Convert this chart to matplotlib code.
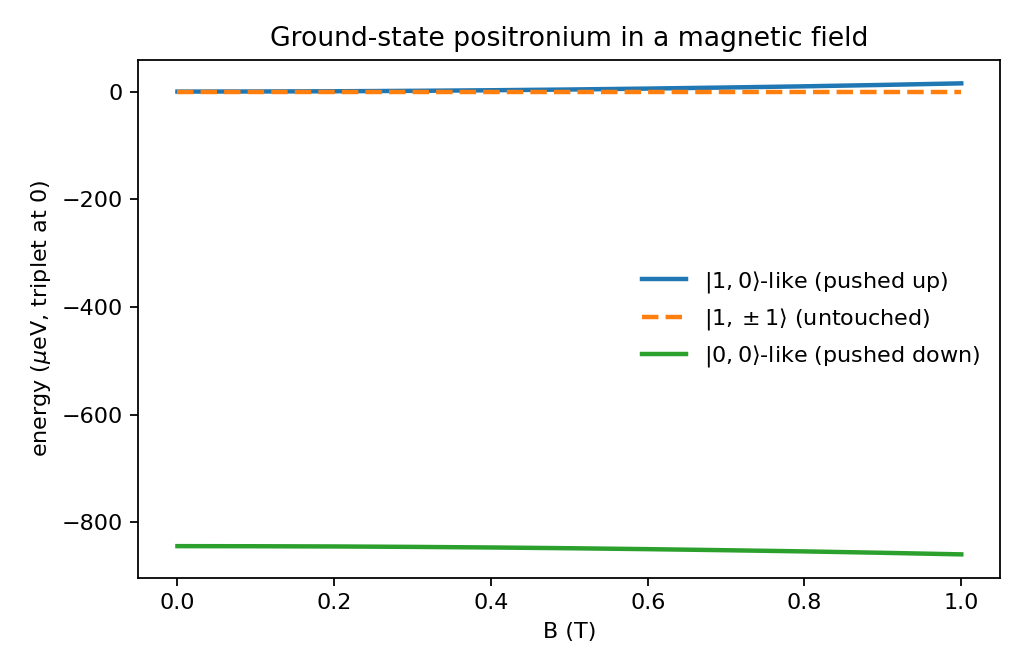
import numpy as np
import matplotlib
matplotlib.use('Agg')
import matplotlib.pyplot as plt

# values (micro-eV, triplet at 0)
B = [0.0, 0.1, 0.2, 0.3, 0.4, 0.5, 0.6, 0.7, 0.8, 0.9, 1.0]
upper = [0.0, 0.2, 0.6, 1.4, 2.5, 3.9, 5.6, 7.6, 9.8, 12.4, 15.3]
untouched = [0.0, 0.0, 0.0, 0.0, 0.0, 0.0, 0.0, 0.0, 0.0, 0.0, 0.0]
lower = [-844.0, -844.2, -844.6, -845.4, -846.5, -847.9, -849.6, -851.6, -853.8, -856.4, -859.3]

fig, ax = plt.subplots(figsize=(6.4, 4.2), dpi=160)
fig.subplots_adjust(left=0.135, right=0.977, top=0.911, bottom=0.140)

ax.plot(B, upper, lw=2, color='#1f77b4', label=r'$|1,0\rangle$-like (pushed up)')
ax.plot(B, untouched, lw=2, ls='--', color='#ff7f0e', label=r'$|1,\pm1\rangle$ (untouched)')
ax.plot(B, lower, lw=2, color='#2ca02c', label=r'$|0,0\rangle$-like (pushed down)')

ax.set_title('Ground-state positronium in a magnetic field')
ax.set_xlabel('B (T)')
ax.set_ylabel(r'energy ($\mu$eV, triplet at 0)')
ax.legend(loc='center right', frameon=False)

fig.savefig('out.png', dpi=160)
